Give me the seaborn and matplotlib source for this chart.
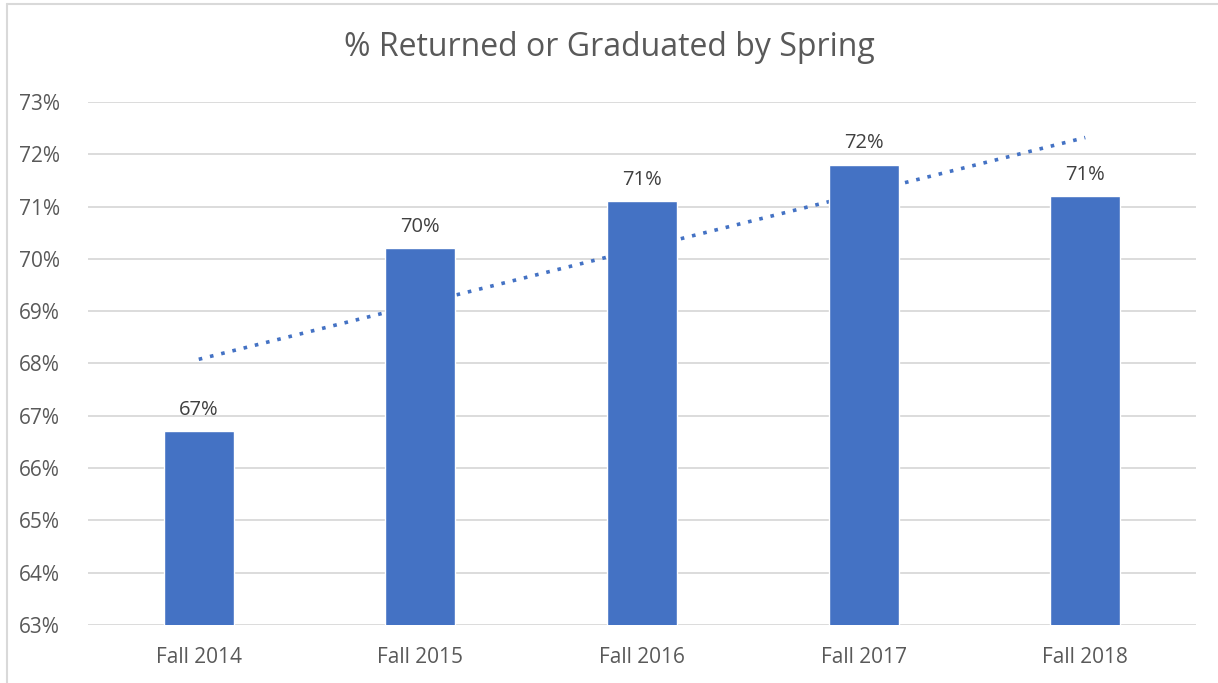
import numpy as np
import pandas as pd
import matplotlib
matplotlib.use("Agg")
import matplotlib.pyplot as plt
import seaborn as sns
from matplotlib.lines import Line2D

# Data
terms = ["Fall 2014", "Fall 2015", "Fall 2016", "Fall 2017", "Fall 2018"]
pct_returned = [66.7, 70.2, 71.1, 71.8, 71.2]
bar_labels = ["67%", "70%", "71%", "72%", "71%"]
y_ticks = list(range(63, 74))

df = pd.DataFrame({"term": terms, "pct": pct_returned})

sns.set_style("white")
plt.rcParams["font.family"] = ["Open Sans", "DejaVu Sans"]

text_col = "#595959"
bar_col = "#4472C4"

fig = plt.figure(figsize=(12.18, 6.83), dpi=100)
ax = fig.add_axes([0.0722, 0.0849, 0.9098, 0.7658])

# Linear trendline (Excel style), sits behind the bars
xs = np.arange(len(terms))
slope, intercept = np.polyfit(xs, pct_returned, 1)
ax.plot(xs, slope * xs + intercept, linestyle=(0, (1, 2.2)), color=bar_col,
        linewidth=2.6, zorder=1)

sns.barplot(data=df, x="term", y="pct", color=bar_col, width=0.316,
            saturation=1, ax=ax, zorder=2, bottom=0)

ax.set_ylim(63, 73)
ax.set_xlim(-0.5, 4.5)
ax.set_yticks(y_ticks)
ax.set_yticklabels([f"{t}%" for t in y_ticks])
ax.yaxis.grid(True, color="#D9D9D9", linewidth=1.3)
ax.set_axisbelow(True)
for s in ax.spines.values():
    s.set_visible(False)
ax.tick_params(axis="both", length=0, labelsize=15, labelcolor=text_col)
ax.tick_params(axis="y", pad=20)
ax.tick_params(axis="x", pad=16)
ax.set_xlabel("")
ax.set_ylabel("")

for i, (v, lab) in enumerate(zip(pct_returned, bar_labels)):
    ax.text(i, v + 0.22, lab, ha="center", va="bottom", fontsize=14.5,
            color="#404040")

fig.suptitle("% Returned or Graduated by Spring", y=0.955, fontsize=23,
             color=text_col)

# chart border (only left and top edges are visible in the crop)
fig.lines.append(Line2D([0.0055, 0.0055], [0, 0.994], transform=fig.transFigure,
                        color="#D9D9D9", linewidth=1.5))
fig.lines.append(Line2D([0.0055, 1.0], [0.994, 0.994], transform=fig.transFigure,
                        color="#D9D9D9", linewidth=1.5))

fig.savefig("out.png", dpi=100)
